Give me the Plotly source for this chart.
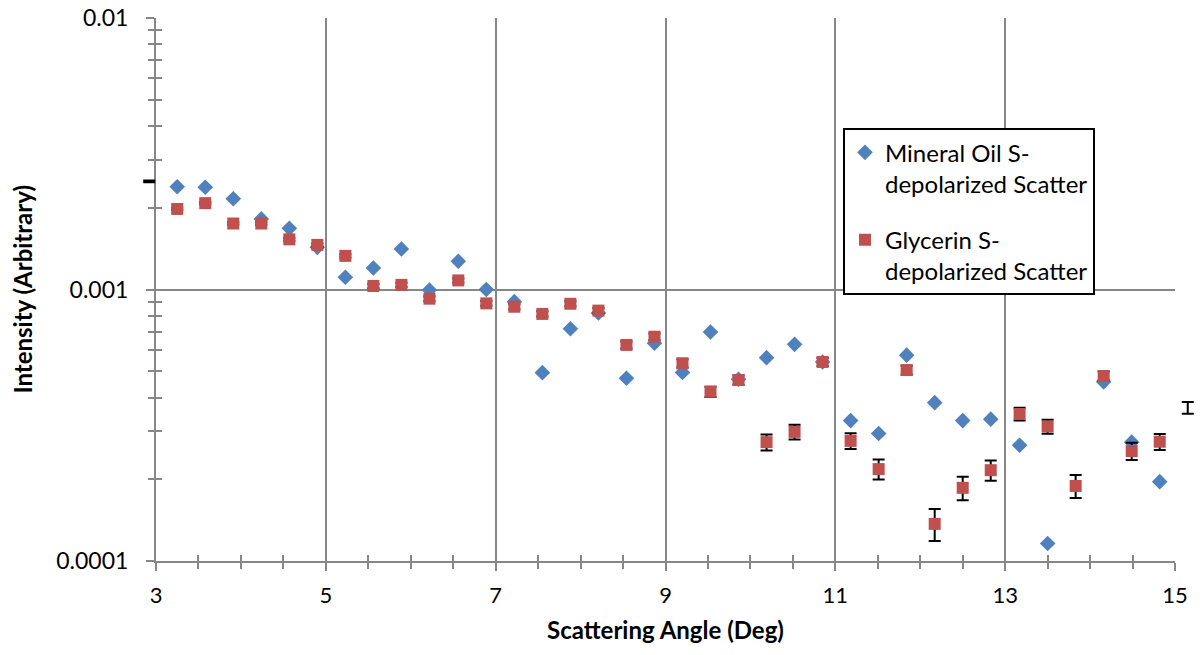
import plotly.graph_objects as go

# Scattering angle (deg)
angle = [3.25, 3.58, 3.91, 4.24, 4.57, 4.90, 5.23, 5.56, 5.89, 6.22, 6.56, 6.89,
         7.22, 7.55, 7.88, 8.21, 8.54, 8.87, 9.20, 9.53, 9.86, 10.19, 10.52, 10.85,
         11.18, 11.51, 11.84, 12.17, 12.50, 12.83, 13.17, 13.50, 13.83, 14.16, 14.49, 14.82]

mineral_oil = [0.00239, 0.00238, 0.00216, 0.00182, 0.00168, 0.00143, 0.00111, 0.00120,
               0.00141, 0.000996, 0.00127, 0.00100, 0.000902, 0.000494, 0.000717, 0.000819,
               0.000471, 0.000634, 0.000495, 0.000697, 0.000467, 0.000561, 0.000628, 0.000541,
               0.000329, 0.000295, 0.000573, 0.000383, 0.000329, 0.000333, 0.000267, 0.000116,
               None, 0.000457, 0.000274, 0.000196]

glycerin = [0.00198, 0.00208, 0.00175, 0.00175, 0.00153, 0.00146, 0.00133, 0.00103,
            0.00104, 0.000925, 0.00108, 0.000889, 0.000864, 0.000813, 0.000886, 0.000836,
            0.000625, 0.000670, 0.000535, 0.000420, 0.000464, 0.000274, 0.000299, 0.000541,
            0.000277, 0.000218, 0.000505, 0.000137, 0.000186, 0.000216, 0.000348, 0.000313,
            0.000189, 0.000480, 0.000254, 0.000275]
glycerin_err = [0.0000185] * len(glycerin)

# glycerin points lying just outside the plotted angle range (only their error bars show)
outside_angle = [2.92, 15.15]
outside_glycerin = [0.00250, 0.000367]
outside_err = [0.0000185, 0.0000185]

x_ticks = [3, 5, 7, 9, 11, 13, 15]
y_tickvals = [0.0001, 0.001, 0.01]
y_ticktext = ["0.0001", "0.001", "0.01"]

x_title = "Scattering Angle (Deg)"
y_title = "Intensity (Arbitrary)"

FONT = "Lato"
GRID = "#878787"
W, H = 1201, 655
M = dict(l=100, r=4, t=18, b=94)
X_RANGE = [3, 15]
Y_RANGE = [-4, -2]
PLOT_L, PLOT_R = 156, 1175          # pixel extent of the visible plot frame
paper_w = W - M["l"] - M["r"]
x_domain = [(PLOT_L - M["l"]) / paper_w, (PLOT_R - M["l"]) / paper_w]
units_per_px = (X_RANGE[1] - X_RANGE[0]) / (PLOT_R - PLOT_L)
# wider, same-scale axis so that error bars just outside the frame remain visible
x3_range = [X_RANGE[0] - (PLOT_L - M["l"]) * units_per_px,
            X_RANGE[1] + (W - M["r"] - PLOT_R) * units_per_px]

fig = go.Figure()

fig.add_trace(go.Scatter(
    x=angle, y=mineral_oil, mode="markers", legendgroup="a",
    name="Mineral Oil S-<br>depolarized Scatter",
    marker=dict(symbol="diamond", size=12, color="#4F81BD"),
))
fig.add_trace(go.Scatter(
    x=angle, y=glycerin, mode="markers", legendgroup="b",
    name="Glycerin S-<br>depolarized Scatter",
    marker=dict(symbol="square", size=12, color="#C0504D"),
    error_y=dict(type="data", array=glycerin_err, color="black", thickness=2, width=6),
))
# dummy trace for the overlay axes giving the inside half of crossing ticks
fig.add_trace(go.Scatter(x=[], y=[], xaxis="x2", yaxis="y2", showlegend=False))
fig.add_trace(go.Scatter(
    x=outside_angle, y=outside_glycerin, mode="markers", showlegend=False,
    hoverinfo="skip", xaxis="x3", yaxis="y3",
    marker=dict(size=1, opacity=0),
    error_y=dict(type="data", array=outside_err, color="black", thickness=2, width=6),
))

fig.update_layout(
    width=W, height=H,
    margin=M,
    paper_bgcolor="white", plot_bgcolor="rgba(0,0,0,0)",
    font=dict(family=FONT, size=22, color="black"),
    xaxis=dict(
        domain=x_domain,
        range=X_RANGE, tickmode="array", tickvals=x_ticks, automargin=False,
        showgrid=True, gridcolor=GRID, gridwidth=1.5,
        showline=True, linecolor=GRID, linewidth=2,
        ticks="outside", ticklen=8, tickwidth=2, tickcolor=GRID,
        minor=dict(dtick=0.5, tick0=3, ticks="outside", ticklen=6, tickwidth=1.5,
                   tickcolor=GRID, showgrid=False),
        title=dict(text=f"<b>{x_title}</b>", font=dict(size=24)),
        tickfont=dict(size=22), ticklabelstandoff=6, zeroline=False,
    ),
    yaxis=dict(
        type="log", range=Y_RANGE, tickmode="array", automargin=False,
        tickvals=y_tickvals, ticktext=y_ticktext,
        showgrid=True, gridcolor=GRID, gridwidth=1.5,
        showline=True, linecolor=GRID, linewidth=2,
        ticks="outside", ticklen=8, tickwidth=2, tickcolor=GRID,
        minor=dict(dtick="D1", ticks="outside", ticklen=6, tickwidth=1.5,
                   tickcolor=GRID, showgrid=False),
        tickfont=dict(size=23), ticklabelstandoff=13, zeroline=False,
    ),
    xaxis2=dict(overlaying="x", matches="x", range=X_RANGE, showgrid=False,
                showticklabels=False, ticks="inside", ticklen=6, tickwidth=1.5,
                tickcolor=GRID, tickmode="array", tickvals=x_ticks,
                minor=dict(dtick=0.5, tick0=3, ticks="inside", ticklen=6, tickwidth=1.5,
                           tickcolor=GRID, showgrid=False),
                anchor="y2", side="bottom", zeroline=False, automargin=False),
    yaxis2=dict(overlaying="y", type="log", range=Y_RANGE, showgrid=False,
                showticklabels=False, ticks="inside", ticklen=6, tickwidth=1.5,
                tickcolor=GRID, tickmode="array", tickvals=y_tickvals,
                minor=dict(dtick="D1", ticks="inside", ticklen=6, tickwidth=1.5,
                           tickcolor=GRID, showgrid=False),
                anchor="x2", side="left", zeroline=False, automargin=False),
    xaxis3=dict(domain=[0, 1], range=x3_range, anchor="y3",
                visible=False, showgrid=False, zeroline=False, automargin=False),
    yaxis3=dict(overlaying="y", type="log", range=Y_RANGE, anchor="x3",
                visible=False, showgrid=False, zeroline=False, automargin=False),
    legend=dict(
        x=(843 - M["l"]) / paper_w, y=0.797, xanchor="left", yanchor="top",
        bgcolor="white", bordercolor="black", borderwidth=2,
        font=dict(size=24), valign="top", itemwidth=30,
        tracegroupgap=22,
    ),
    annotations=[dict(
        text=f"<b>{y_title}</b>", textangle=-90, showarrow=False,
        xref="paper", yref="paper", x=(22 - M["l"]) / paper_w, y=0.5,
        xanchor="center", yanchor="middle", font=dict(size=24),
    )],
    showlegend=True,
)

fig.write_html("out.html")
